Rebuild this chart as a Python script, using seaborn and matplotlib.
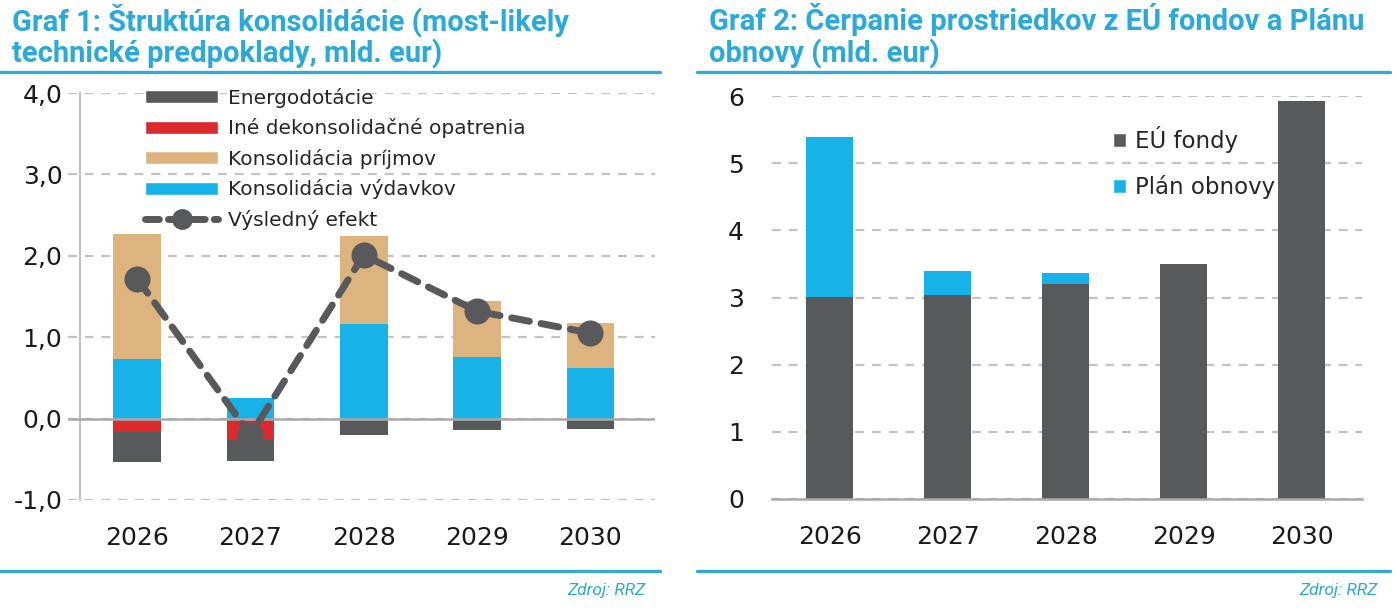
import matplotlib
matplotlib.use("Agg")
import matplotlib.pyplot as plt
from matplotlib.lines import Line2D
from matplotlib.patches import Patch
import seaborn as sns

sns.set_theme(style="white")
plt.rcParams["font.family"] = ["DejaVu Sans"]

# ===============================
# Data
# ===============================
years = ["2026", "2027", "2028", "2029", "2030"]

# Graf 1 (mld. eur)
vydavky = [0.73, 0.25, 1.16, 0.76, 0.62]
prijmy = [1.54, 0.00, 1.08, 0.69, 0.55]
ine = [-0.16, -0.26, 0.00, 0.00, 0.00]
energo = [-0.37, -0.26, -0.20, -0.14, -0.13]
efekt = [1.72, -0.20, 2.01, 1.32, 1.05]
y1_ticks = [-1, 0, 1, 2, 3, 4]
y1_labels = ["-1,0", "0,0", "1,0", "2,0", "3,0", "4,0"]

# Graf 2 (mld. eur)
eu_fondy = [3.01, 3.03, 3.20, 3.50, 5.92]
plan_obnovy = [2.38, 0.36, 0.16, 0.00, 0.00]
y2_ticks = [0, 1, 2, 3, 4, 5, 6]

# ===============================
# Style
# ===============================
DARK = "#58595B"
RED = "#DA2A2C"
TAN = "#DDB47E"
BLUE = "#17B3E8"
TITLE = "#2AA9DB"
RULE = "#35A9D4"
GRID = "#C3C3C3"
AXIS = "#A9A9A9"
TXT = "#1A1A1A"

W, H = 1397, 610
fig = plt.figure(figsize=(W / 100, H / 100), dpi=100)

def fx(px):
    return px / W

def fy(py):
    return 1 - py / H

ax1 = fig.add_axes([fx(68), fy(500), fx(655 - 68), (500 - 93) / H])
ax2 = fig.add_axes([fx(772), fy(499), fx(1362 - 772), (499 - 96) / H])

# ===============================
# Graf 1: stacked bars + line
# ===============================
bw1 = 0.42
sns.barplot(x=years, y=vydavky, color=BLUE, saturation=1, width=bw1, linewidth=0, ax=ax1)
sns.barplot(x=years, y=prijmy, bottom=vydavky, color=TAN, saturation=1, width=bw1, linewidth=0, ax=ax1)
sns.barplot(x=years, y=ine, color=RED, saturation=1, width=bw1, linewidth=0, ax=ax1)
sns.barplot(x=years, y=energo, bottom=ine, color=DARK, saturation=1, width=bw1, linewidth=0, ax=ax1)
ax1.axhline(0, color=AXIS, lw=1.8, zorder=3)

sns.pointplot(x=years, y=efekt, color=DARK, errorbar=None, linestyles="--",
              markers="o", linewidth=5, markersize=15, ax=ax1)
eff_line = ax1.lines[-1]
eff_line.set_dashes((2.6, 1.7))
eff_line.set_dash_capstyle("round")
eff_line.set_zorder(5)

ax1.set_ylim(-1, 4)
ax1.set_xlim(-0.61, 4.57)
ax1.set_yticks(y1_ticks)
ax1.set_yticklabels(y1_labels)
ax1.set_axisbelow(True)
ax1.yaxis.grid(True, color=GRID, lw=1.6, linestyle=(0, (4, 3.5)))
ax1.xaxis.grid(False)
for s in ["top", "right", "bottom"]:
    ax1.spines[s].set_visible(False)
ax1.spines["left"].set_position(("data", -0.5))
ax1.spines["left"].set_color(GRID)
ax1.spines["left"].set_linewidth(1.6)
ax1.tick_params(axis="y", length=0, pad=13, labelsize=18, labelcolor=TXT)
ax1.tick_params(axis="x", length=0, pad=19, labelsize=18, labelcolor=TXT)
ax1.set_xlabel("")
ax1.set_ylabel("")

leg1_handles = [
    Patch(facecolor=DARK, label="Energodotácie"),
    Patch(facecolor=RED, label="Iné dekonsolidačné opatrenia"),
    Patch(facecolor=TAN, label="Konsolidácia príjmov"),
    Patch(facecolor=BLUE, label="Konsolidácia výdavkov"),
    Line2D([], [], color=DARK, lw=5, dashes=(2.0, 1.3), dash_capstyle="round",
           marker="o", markersize=14, label="Výsledný efekt"),
]
fig.legend(handles=leg1_handles, loc="upper left", bbox_to_anchor=(fx(145), fy(88)),
           frameon=False, fontsize=14.5, handlelength=3.63, handleheight=0.62,
           handletextpad=0.5, labelspacing=0.52, borderpad=0, borderaxespad=0)

# ===============================
# Graf 2: stacked bars
# ===============================
bw2 = 0.40
sns.barplot(x=years, y=eu_fondy, color=DARK, saturation=1, width=bw2, linewidth=0, ax=ax2)
sns.barplot(x=years, y=plan_obnovy, bottom=eu_fondy, color=BLUE, saturation=1, width=bw2, linewidth=0, ax=ax2)

ax2.set_ylim(0, 6)
ax2.set_xlim(-0.49, 4.51)
ax2.set_yticks(y2_ticks)
ax2.set_axisbelow(True)
ax2.yaxis.grid(True, color=GRID, lw=1.6, linestyle=(0, (4, 3.5)))
ax2.xaxis.grid(False)
for s in ["top", "right", "left"]:
    ax2.spines[s].set_visible(False)
ax2.spines["bottom"].set_color(AXIS)
ax2.spines["bottom"].set_linewidth(1.8)
ax2.tick_params(axis="y", length=0, pad=20, labelsize=18, labelcolor=TXT)
ax2.tick_params(axis="x", length=0, pad=19, labelsize=18, labelcolor=TXT)
ax2.set_xlabel("")
ax2.set_ylabel("")

leg2_handles = [
    Patch(facecolor=DARK, label="EÚ fondy"),
    Patch(facecolor=BLUE, label="Plán obnovy"),
]
fig.legend(handles=leg2_handles, loc="upper left", bbox_to_anchor=(fx(1113), fy(126)),
           frameon=False, fontsize=16.5, handlelength=0.57, handleheight=0.57,
           handletextpad=0.4, labelspacing=0.95, borderpad=0, borderaxespad=0)

# ===============================
# Titles, rules and source
# ===============================
tkw = dict(color=TITLE, fontsize=21, fontweight="bold", family=["Roboto", "DejaVu Sans"],
           va="center", ha="left")
fig.text(fx(12), fy(20), "Graf 1: Štruktúra konsolidácie (most-likely", **tkw)
fig.text(fx(12), fy(54), "technické predpoklady, mld. eur)", **tkw)
fig.text(fx(709), fy(20), "Graf 2: Čerpanie prostriedkov z EÚ fondov a Plánu", **tkw)
fig.text(fx(709), fy(54), "obnovy (mld. eur)", **tkw)

for x0, x1 in [(0, 660), (697, 1390)]:
    for yy in [72, 571]:
        fig.add_artist(Line2D([fx(x0), fx(x1)], [fy(yy), fy(yy)], color=RULE, lw=2.4,
                              transform=fig.transFigure))

skw = dict(color=TITLE, fontsize=12.5, style="italic", family=["Roboto", "DejaVu Sans"],
           va="center", ha="right")
fig.text(fx(645), fy(591), "Zdroj: RRZ", **skw)
fig.text(fx(1377), fy(591), "Zdroj: RRZ", **skw)

fig.savefig("out.png", dpi=100)
